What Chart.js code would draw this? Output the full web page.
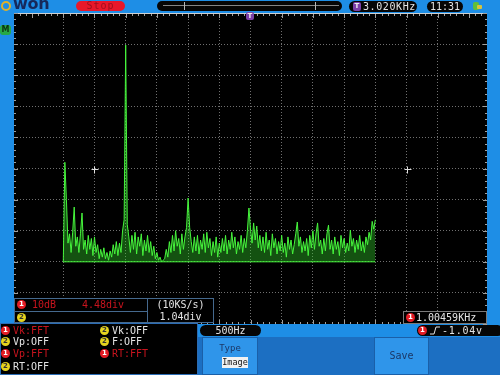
<!DOCTYPE html>
<html>
<head>
<meta charset="utf-8">
<script src="https://cdn.jsdelivr.net/npm/chart.js@4.4.1/dist/chart.umd.min.js"></script>
<style>
  html, body { margin: 0; padding: 0; }
  body {
    width: 500px; height: 375px; position: relative; overflow: hidden;
    background: #1e8ee6;
    font-family: "DejaVu Sans Mono", "Liberation Mono", monospace;
    font-size: 10px;
  }
  #scope { position: absolute; left: 0; top: 0; }
  .abs { position: absolute; white-space: nowrap; }
  .pill { position: absolute; background: #060606; border-radius: 6px; color: #e4e4e4; height: 11px; line-height: 11px; text-align: center; }
  .dot { position: absolute; width: 9px; height: 9px; border-radius: 50%; font: bold 7px/9px "DejaVu Sans", sans-serif; text-align: center; }
  .c1 { background: #e41c24; color: #fff; }
  .c2 { background: #e6d41e; color: #333; }
  .red { color: #c8141e; }
  .wht { color: #e4e4e4; }
  .box { position: absolute; background: #000; border: 1px solid #45698e; box-sizing: border-box; }
  .btn { position: absolute; background: #2f95ea; border: 1px solid #1a5fa8; box-sizing: border-box; color: #1b3766; text-align: center; }
</style>
</head>
<body>
<!-- darker soft-key band -->
<div class="abs" style="left:0;top:337px;width:500px;height:38px;background:#1c6fc2;"></div>

<canvas id="scope" width="500" height="375"></canvas>

<!-- top bar -->
<div class="abs" style="left:1px;top:1px;width:10px;height:10px;border-radius:50%;border:2.5px solid #e0b22a;box-sizing:border-box;"></div>
<div class="abs" style="left:13px;top:-4px;font:bold 16px/16px 'DejaVu Sans',sans-serif;color:#16285a;letter-spacing:-0.3px;">won</div>
<div class="pill" style="left:76px;top:1px;width:49px;height:10px;line-height:10px;background:#e8182a;color:#9c0f1c;letter-spacing:1px;">Stop</div>
<div class="pill" style="left:157px;top:1px;width:185px;height:10px;"></div>
<div class="abs" style="left:163px;top:5px;width:176px;height:1px;background:#858585;"></div>
<div class="abs" style="left:184px;top:2px;width:1px;height:8px;background:#b5b5b5;"></div>
<div class="abs" style="left:315px;top:2px;width:1px;height:8px;background:#b5b5b5;"></div>
<div class="pill" style="left:349px;top:1px;width:68px;text-align:left;">
  <span class="abs" style="left:4px;top:1px;width:8px;height:9px;background:#7b3fa8;border-radius:2px;font:bold 7px/9px 'DejaVu Sans',sans-serif;color:#eee;text-align:center;">T</span>
  <span class="abs" style="left:14px;top:0;letter-spacing:0.6px;">3.020KHz</span>
</div>
<div class="pill" style="left:427px;top:1px;width:36px;">11:31</div>
<div class="abs" style="left:473px;top:2px;width:6px;height:8px;background:#5fbf3a;border-radius:2px;"></div>
<div class="abs" style="left:477px;top:5px;width:5px;height:4px;background:#d8c43a;border-radius:1px;"></div>

<!-- trigger position marker and channel marker -->
<div class="abs" style="left:246px;top:12px;width:8px;height:8px;background:#7b3fa8;border-radius:2px;font:bold 7px/8px 'DejaVu Sans',sans-serif;color:#eee;text-align:center;">T</div>
<div class="abs" style="left:0;top:25px;width:11px;height:10px;background:#27a846;border-radius:3px;font:bold 8px/10px 'DejaVu Sans',sans-serif;color:#0a3412;text-align:center;">M</div>

<!-- FFT scale boxes -->
<div class="box" style="left:14px;top:298px;width:134px;height:25px;"></div>
<div class="abs" style="left:15px;top:311px;width:132px;height:1px;background:#45698e;"></div>
<div class="dot c1" style="left:17px;top:300px;">1</div>
<div class="abs red" style="left:32px;top:299px;line-height:11px;">10dB</div>
<div class="abs red" style="left:82px;top:299px;line-height:11px;">4.48div</div>
<div class="dot c2" style="left:17px;top:313px;">2</div>
<div class="box" style="left:147px;top:298px;width:67px;height:25px;"></div>
<div class="abs wht" style="left:147px;top:299px;width:67px;text-align:center;line-height:11px;">(10KS/s)</div>
<div class="abs wht" style="left:147px;top:311px;width:67px;text-align:center;line-height:11px;">1.04div</div>

<div class="box" style="left:403px;top:311px;width:84px;height:13px;border-color:#7a7a7a;"></div>
<div class="dot c1" style="left:406px;top:313px;">1</div>
<div class="abs wht" style="left:416px;top:312px;line-height:11px;">1.00459KHz</div>

<!-- measurement panel -->
<div class="box" style="left:0;top:323px;width:198px;height:52px;border-color:#2b6cb4;"></div>
<div class="dot c1" style="left:1px;top:326px;">1</div>
<div class="abs red" style="left:13px;top:325px;line-height:11px;">Vk:FFT</div>
<div class="dot c2" style="left:100px;top:326px;">2</div>
<div class="abs wht" style="left:112px;top:325px;line-height:11px;">Vk:OFF</div>
<div class="dot c2" style="left:1px;top:337px;">2</div>
<div class="abs wht" style="left:13px;top:336px;line-height:11px;">Vp:OFF</div>
<div class="dot c2" style="left:100px;top:337px;">2</div>
<div class="abs wht" style="left:112px;top:336px;line-height:11px;">F:OFF</div>
<div class="dot c1" style="left:1px;top:349px;">1</div>
<div class="abs red" style="left:13px;top:348px;line-height:11px;">Vp:FFT</div>
<div class="dot c1" style="left:100px;top:349px;">1</div>
<div class="abs red" style="left:112px;top:348px;line-height:11px;">RT:FFT</div>
<div class="dot c2" style="left:1px;top:362px;">2</div>
<div class="abs wht" style="left:13px;top:361px;line-height:11px;">RT:OFF</div>

<!-- status strip -->
<div class="pill" style="left:200px;top:325px;width:61px;">500Hz</div>
<div class="pill" style="left:417px;top:325px;width:86px;text-align:left;">
  <span class="dot c1" style="left:1px;top:1px;">1</span>
  <svg class="abs" style="left:13px;top:1px;" width="10" height="9"><polyline points="0,8 4,8 6,1 10,1" fill="none" stroke="#e4e4e4" stroke-width="1"/></svg>
  <span class="abs" style="left:25px;top:0;letter-spacing:0.8px;">-1.04v</span>
</div>

<!-- soft keys -->
<div class="btn" style="left:202px;top:337px;width:56px;height:38px;">
  <div class="abs" style="left:0;top:5px;width:54px;font-size:9px;line-height:11px;">Type</div>
  <div class="abs" style="left:19px;top:19px;width:26px;height:11px;background:#f2f2f2;color:#111;font-size:8.5px;line-height:11px;">Image</div>
</div>
<div class="btn" style="left:374px;top:337px;width:55px;height:38px;line-height:36px;">Save</div>

<script>
// FFT of CH1 at 500 Hz/div, 10 dB/div; one value every 25 Hz from 0 to 5 kHz
const binStepKHz = 0.025;
const levelDb = [
  -30, 2, -10, -24, -21, -27, -20.5, -12.4, -25, -22,
  -27, -21, -14.3, -26, -23, -27.5, -21.5, -26, -22.5, -28,
  -22, -27, -24.5, -29, -26, -28.5, -25.5, -29, -27, -29.5,
  -26.5, -28.5, -24.5, -27.5, -23.5, -28, -24, -27, -20, -16.5,
  39.7, -18, -22, -27, -21.5, -26, -20.5, -27.5, -22, -25,
  -21, -28, -23, -26.5, -21.5, -27, -23.5, -28, -25, -29,
  -27, -29.5, -28.5, -30, -29.5, -29, -26, -28.5, -23.5, -27,
  -21.5, -26.5, -20, -25, -22.5, -27.5, -21, -26, -22, -19,
  -9.5, -19, -23.5, -27, -22, -26.5, -21.5, -27.5, -23, -26,
  -21, -27, -20.5, -25.5, -22.5, -28, -23.5, -27, -22, -28.5,
  -24, -27, -22.5, -26.5, -21.5, -27.5, -23, -26, -20.5, -25.5,
  -22, -27.5, -23.5, -26, -21.5, -27, -22.5, -25.5, -20, -12.7,
  -19.5, -24, -17.5, -23, -18.5, -25.5, -21.5, -26.5, -22, -27,
  -20.5, -26, -23, -28, -21, -25.5, -22.5, -27.5, -23.5, -26.5,
  -21.5, -27, -24, -28.5, -22, -26, -23, -27.5, -24.5, -21,
  -17.2, -25, -22, -27, -23.5, -26.5, -22.5, -28, -21.5, -25.5,
  -20, -26, -21, -17.5, -25, -23, -27.5, -22.5, -26.5, -21,
  -18.2, -26, -23, -27.5, -22, -26, -23.5, -28, -21.5, -25.5,
  -22.5, -27, -24, -26.5, -19.8, -25, -22.5, -27, -23, -26,
  -21.5, -26.5, -23.5, -27, -22, -24.5, -20.5, -23, -17, -19.5,
  -16.5
];
const floorKHz = [0, 5];
const floorDb = [-30, -30];
const cursorKHz = [0.5, 5.5];
const cursorDb = [0, 0];

const traceColor = '#46f53c';
const gridColor = 'rgba(150,150,150,0.75)';

const spectrumPts = levelDb.map((v, i) => ({ x: i * binStepKHz, y: v }));
const floorPts = floorKHz.map((f, i) => ({ x: f, y: floorDb[i] }));

// black screen, edge ticks and cursor crosses
const scopeScreen = {
  id: 'scopeScreen',
  beforeDraw(chart) {
    const { ctx, chartArea: a } = chart;
    ctx.save();
    ctx.fillStyle = '#000';
    ctx.fillRect(a.left, a.top, a.right - a.left, a.bottom - a.top);
    ctx.restore();
  },
  afterDraw(chart) {
    const { ctx, chartArea: a, scales: { x, y } } = chart;
    ctx.save();
    ctx.strokeStyle = '#d0d0d0';
    ctx.lineWidth = 1;
    ctx.beginPath();
    ctx.moveTo(a.left, a.top + 0.5);
    ctx.lineTo(a.right, a.top + 0.5);
    ctx.stroke();

    ctx.strokeStyle = '#a0a0a0';
    ctx.beginPath();
    for (let k = Math.ceil(x.min * 10); k <= Math.floor(x.max * 10); k++) {
      const px = Math.round(x.getPixelForValue(k / 10)) + 0.5;
      const len = k % 5 === 0 ? 4 : 2;
      ctx.moveTo(px, a.top + 1); ctx.lineTo(px, a.top + 1 + len);
      ctx.moveTo(px, a.bottom); ctx.lineTo(px, a.bottom - len);
    }
    for (let k = Math.ceil(y.min / 2); k <= Math.floor(y.max / 2); k++) {
      const py = Math.round(y.getPixelForValue(k * 2)) + 0.5;
      const len = k % 5 === 0 ? 4 : 2;
      ctx.moveTo(a.left, py); ctx.lineTo(a.left + len, py);
      ctx.moveTo(a.right, py); ctx.lineTo(a.right - len, py);
    }
    ctx.stroke();

    ctx.strokeStyle = '#e0e0e0';
    ctx.beginPath();
    cursorKHz.forEach((f, i) => {
      const cx = Math.round(x.getPixelForValue(f)) + 0.5;
      const cy = Math.round(y.getPixelForValue(cursorDb[i])) + 0.5;
      ctx.moveTo(cx - 3, cy); ctx.lineTo(cx + 4, cy);
      ctx.moveTo(cx, cy - 3); ctx.lineTo(cx, cy + 4);
    });
    ctx.stroke();
    ctx.restore();
  }
};

const onDivision = (v, step) => Math.abs(v / step - Math.round(v / step)) < 1e-6;

new Chart(document.getElementById('scope'), {
  type: 'line',
  data: {
    datasets: [
      { data: floorPts, borderColor: traceColor, borderWidth: 1, pointRadius: 0 },
      {
        data: spectrumPts,
        borderColor: traceColor,
        borderWidth: 1,
        pointRadius: 0,
        tension: 0,
        fill: { value: -30 },
        backgroundColor: 'rgba(52,215,44,0.38)'
      }
    ]
  },
  options: {
    responsive: false,
    devicePixelRatio: 1,
    animation: false,
    events: [],
    layout: { padding: { left: 14, top: 13, right: 13, bottom: 51 } },
    plugins: { legend: { display: false }, tooltip: { enabled: false } },
    scales: {
      x: {
        type: 'linear',
        min: -0.79,
        max: 6.79,
        ticks: { display: false, stepSize: 0.5 },
        grid: {
          drawTicks: false,
          color: c => (onDivision(c.tick.value, 0.5) ? gridColor : 'transparent')
        },
        border: { display: false, dash: [1, 2] }
      },
      y: {
        min: -50,
        max: 50,
        ticks: { display: false, stepSize: 10 },
        grid: {
          drawTicks: false,
          color: c => (Math.abs(c.tick.value) < 50 ? gridColor : 'transparent')
        },
        border: { display: false, dash: [1, 2] }
      }
    }
  },
  plugins: [scopeScreen]
});
</script>
</body>
</html>
